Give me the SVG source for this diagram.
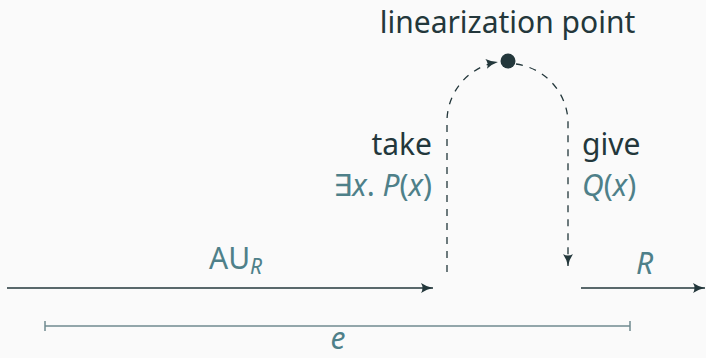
<svg xmlns="http://www.w3.org/2000/svg" width="706" height="358" viewBox="0 0 706 358">
<defs>
<style>
text{font-family:"Noto Sans","Open Sans","DejaVu Sans",sans-serif;font-size:30px}
.dark{fill:#23373b}
.teal{fill:#4e8089}
.it{font-style:italic}
.line{stroke:#23373b;stroke-width:1.5;fill:none}
.dash{stroke:#23373b;stroke-width:1.3;fill:none;stroke-dasharray:7 7}
.dim{stroke:#6f8a8f;stroke-width:1.5;fill:none}
</style>
<marker id="ah" viewBox="0 0 13 10" refX="12" refY="5" markerWidth="13" markerHeight="10" markerUnits="userSpaceOnUse" orient="auto">
<path d="M0,0 Q6,4 12,5 Q6,6 0,10 Q3,5 0,0 Z" fill="#23373b"/>
</marker>
</defs>
<rect width="706" height="358" fill="#fafafa"/>
<g id="connectors">
<line class="line" x1="7" y1="288" x2="433" y2="288" marker-end="url(#ah)"/>
<line class="line" x1="581" y1="288" x2="705" y2="288" marker-end="url(#ah)"/>
<path class="dash" d="M447,272 L447,121 A60.5,60 0 0 1 498,62" marker-end="url(#ah)"/>
<path class="dash" d="M516,64 A60.5,60 0 0 1 568,121 L568,266" marker-end="url(#ah)"/>
<g id="dimension">
<line class="dim" x1="45" y1="326" x2="630" y2="326"/>
<line class="dim" x1="45" y1="321" x2="45" y2="331"/>
<line class="dim" x1="630" y1="321" x2="630" y2="331"/>
</g>
</g>
<g id="linearization-point">
<circle cx="508" cy="61" r="7.5" fill="#23373b"/>
<text class="dark" x="507.5" y="33" text-anchor="middle">linearization point</text>
</g>
<g id="take">
<text class="dark" x="432" y="155" text-anchor="end">take</text>
<text class="teal" x="432" y="196" text-anchor="end">∃<tspan class="it">x</tspan>. <tspan class="it">P</tspan>(<tspan class="it">x</tspan>)</text>
</g>
<g id="give">
<text class="dark" x="582" y="155">give</text>
<text class="teal" x="582" y="196"><tspan class="it">Q</tspan>(<tspan class="it">x</tspan>)</text>
</g>
<g id="au">
<text class="teal" x="209" y="269">AU<tspan class="it" font-size="21" dy="5">R</tspan></text>
</g>
<g id="r-label">
<text class="teal it" x="636" y="274">R</text>
</g>
<g id="e-label">
<text class="teal it" x="338" y="349" text-anchor="middle">e</text>
</g>
</svg>
